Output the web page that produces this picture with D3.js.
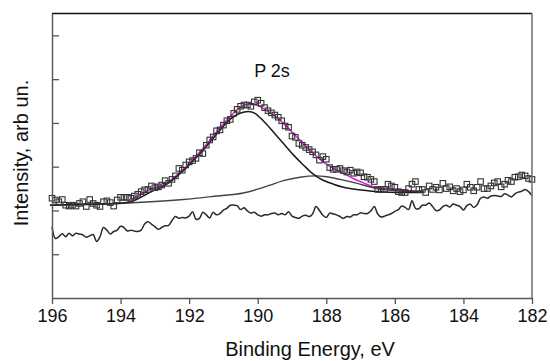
<!DOCTYPE html>
<html>
<head>
<meta charset="utf-8">
<script src="https://cdn.jsdelivr.net/npm/d3@7"></script>
<style>
  body { margin: 0; background: #fff; }
  svg { display: block; font-family: "Liberation Sans", Arial, sans-serif; }
</style>
</head>
<body>
<svg id="chart" width="550" height="361"></svg>
<script>
// Binding energy grid, eV (one point per 0.1 eV)
const energy = [
  196.0, 195.9, 195.8, 195.7, 195.6, 195.5, 195.4, 195.3, 195.2, 195.1,
  195.0, 194.9, 194.8, 194.7, 194.6, 194.5, 194.4, 194.3, 194.2, 194.1,
  194.0, 193.9, 193.8, 193.7, 193.6, 193.5, 193.4, 193.3, 193.2, 193.1,
  193.0, 192.9, 192.8, 192.7, 192.6, 192.5, 192.4, 192.3, 192.2, 192.1,
  192.0, 191.9, 191.8, 191.7, 191.6, 191.5, 191.4, 191.3, 191.2, 191.1,
  191.0, 190.9, 190.8, 190.7, 190.6, 190.5, 190.4, 190.3, 190.2, 190.1,
  190.0, 189.9, 189.8, 189.7, 189.6, 189.5, 189.4, 189.3, 189.2, 189.1,
  189.0, 188.9, 188.8, 188.7, 188.6, 188.5, 188.4, 188.3, 188.2, 188.1,
  188.0, 187.9, 187.8, 187.7, 187.6, 187.5, 187.4, 187.3, 187.2, 187.1,
  187.0, 186.9, 186.8, 186.7, 186.6, 186.5, 186.4, 186.3, 186.2, 186.1,
  186.0, 185.9, 185.8, 185.7, 185.6, 185.5, 185.4, 185.3, 185.2, 185.1,
  185.0, 184.9, 184.8, 184.7, 184.6, 184.5, 184.4, 184.3, 184.2, 184.1,
  184.0, 183.9, 183.8, 183.7, 183.6, 183.5, 183.4, 183.3, 183.2, 183.1,
  183.0, 182.9, 182.8, 182.7, 182.6, 182.5, 182.4, 182.3, 182.2, 182.1,
  182.0
];

// Measured intensity (open squares)
const measured = [
  2.28, 2.24, 2.20, 2.25, 2.12, 2.10, 2.12, 2.10, 2.16, 2.20,
  2.09, 2.25, 2.16, 2.12, 2.09, 2.20, 2.22, 2.18, 2.10, 2.24,
  2.30, 2.30, 2.30, 2.28, 2.33, 2.37, 2.43, 2.47, 2.48, 2.56,
  2.52, 2.54, 2.58, 2.68, 2.62, 2.71, 2.79, 2.96, 2.92, 3.04,
  3.11, 3.14, 3.19, 3.32, 3.30, 3.49, 3.61, 3.68, 3.82, 3.84,
  3.95, 4.05, 4.08, 4.22, 4.31, 4.38, 4.41, 4.41, 4.38, 4.48,
  4.52, 4.45, 4.35, 4.28, 4.23, 4.18, 4.13, 4.05, 3.93, 3.90,
  3.70, 3.67, 3.53, 3.49, 3.44, 3.39, 3.34, 3.27, 3.15, 3.23,
  3.17, 2.98, 2.94, 2.94, 2.96, 2.91, 2.88, 2.92, 2.85, 2.88,
  2.86, 2.77, 2.76, 2.71, 2.66, 2.48, 2.48, 2.48, 2.60, 2.56,
  2.53, 2.43, 2.41, 2.41, 2.50, 2.60, 2.66, 2.48, 2.48, 2.41,
  2.56, 2.48, 2.53, 2.47, 2.62, 2.50, 2.54, 2.45, 2.50, 2.43,
  2.47, 2.60, 2.53, 2.45, 2.53, 2.66, 2.50, 2.50, 2.56, 2.63,
  2.66, 2.54, 2.60, 2.69, 2.66, 2.76, 2.77, 2.81, 2.79, 2.73,
  2.71
];

// Residual (lower noisy trace), same energy grid
const residual = [
  1.63, 1.36, 1.40, 1.47, 1.40, 1.48, 1.42, 1.48, 1.46, 1.44,
  1.39, 1.42, 1.45, 1.29, 1.40, 1.61, 1.55, 1.46, 1.52, 1.55,
  1.64, 1.61, 1.53, 1.55, 1.53, 1.52, 1.55, 1.69, 1.74, 1.69,
  1.63, 1.57, 1.61, 1.65, 1.66, 1.77, 1.86, 1.82, 1.84, 1.83,
  1.87, 1.97, 1.80, 1.82, 1.96, 1.90, 1.83, 1.96, 1.90, 1.93,
  2.01, 2.05, 2.12, 2.12, 2.11, 2.02, 2.06, 1.99, 1.94, 1.96,
  1.90, 1.87, 1.90, 1.90, 1.93, 1.94, 1.90, 1.93, 1.90, 1.97,
  1.87, 1.84, 1.82, 1.87, 1.89, 1.86, 1.92, 2.09, 2.00, 1.89,
  1.84, 1.94, 1.92, 1.90, 1.86, 1.82, 1.86, 1.85, 1.90, 1.90,
  1.95, 1.93, 1.93, 1.99, 2.09, 1.92, 1.85, 1.87, 1.90, 1.93,
  1.98, 2.02, 2.10, 2.07, 2.02, 2.22, 2.05, 2.04, 2.12, 2.12,
  2.17, 2.09, 2.00, 2.01, 2.09, 2.12, 2.08, 2.15, 2.12, 2.09,
  2.01, 2.11, 2.14, 2.07, 2.13, 2.28, 2.31, 2.28, 2.33, 2.34,
  2.33, 2.32, 2.38, 2.35, 2.31, 2.38, 2.42, 2.44, 2.48, 2.43,
  2.34
];

// Total fit envelope (magenta)
const fitEnergy = [193.7, 193.14, 192.65, 192.17, 191.68, 191.2, 190.81, 190.52, 190.22,
  190.03, 189.74, 189.45, 189.25, 188.96, 188.67, 188.38, 188.09, 187.79, 187.5,
  187.21, 186.92, 186.63, 186.34, 185.95, 185.56, 185.17];
const fitTotal = [2.24, 2.48, 2.63, 2.94, 3.34, 3.80, 4.14, 4.35, 4.43,
  4.41, 4.28, 4.13, 3.99, 3.76, 3.53, 3.30, 3.11, 2.96, 2.85,
  2.73, 2.63, 2.54, 2.50, 2.47, 2.45, 2.44];

// Main P 2s component on background (black)
const mainEnergy = [196.06, 195.1, 194.1, 193.7, 193.1, 192.65, 192.17, 191.68, 191.2,
  190.81, 190.52, 190.27, 190.08, 189.84, 189.55, 189.25, 188.96, 188.67, 188.38,
  188.09, 187.79, 187.5, 187.21, 186.92, 186.63, 186.34, 185.95, 185.17];
const mainComp = [2.12, 2.14, 2.16, 2.20, 2.43, 2.60, 2.91, 3.30, 3.74,
  4.08, 4.22, 4.26, 4.22, 4.05, 3.80, 3.53, 3.27, 3.04, 2.83,
  2.69, 2.60, 2.53, 2.49, 2.46, 2.44, 2.42, 2.41, 2.41];

// Broad second component on background (grey)
const broadEnergy = [196.06, 194.1, 192.17, 191.2, 190.42, 190.03, 189.64, 189.25,
  188.77, 188.28, 187.99, 187.6, 187.1, 186.63, 186.24, 185.75, 185.17];
const broadComp = [2.12, 2.16, 2.25, 2.33, 2.40, 2.48, 2.58, 2.68,
  2.76, 2.79, 2.77, 2.71, 2.62, 2.52, 2.47, 2.44, 2.44];

const xTicks = [196, 194, 192, 190, 188, 186, 184, 182];
const yTicks = [1, 2, 3, 4, 5, 6];

const margin = { top: 13.5, right: 18, bottom: 63, left: 52 };
const W = 550, H = 361;
const svg = d3.select('#chart');

const x = d3.scaleLinear().domain([196, 182]).range([margin.left, W - margin.right]);
const y = d3.scaleLinear().domain([0, 6.5]).range([H - margin.bottom, margin.top]);

const zip = (xs, ys) => xs.map((e, i) => [e, ys[i]]);
const line = d3.line().x((d) => x(d[0])).y((d) => y(d[1]));

// residual
svg.append('path')
  .attr('fill', 'none')
  .attr('stroke', '#2a2a2a')
  .attr('stroke-width', 1.5)
  .attr('d', line.curve(d3.curveCatmullRom)(zip(energy, residual)));

// fit envelope
svg.append('path')
  .attr('fill', 'none')
  .attr('stroke', '#e619e6')
  .attr('stroke-width', 1.5)
  .attr('d', line.curve(d3.curveMonotoneX)(zip(fitEnergy, fitTotal)));

// broad component
svg.append('path')
  .attr('fill', 'none')
  .attr('stroke', '#444')
  .attr('stroke-width', 1.4)
  .attr('d', line.curve(d3.curveMonotoneX)(zip(broadEnergy, broadComp)));

// main component
svg.append('path')
  .attr('fill', 'none')
  .attr('stroke', '#1a1a1a')
  .attr('stroke-width', 1.5)
  .attr('d', line.curve(d3.curveMonotoneX)(zip(mainEnergy, mainComp)));

// measured points
svg.append('g')
  .selectAll('rect')
  .data(zip(energy, measured))
  .join('rect')
  .attr('x', (d) => x(d[0]) - 2.75)
  .attr('y', (d) => y(d[1]) - 2.75)
  .attr('width', 5.5)
  .attr('height', 5.5)
  .attr('fill', 'none')
  .attr('stroke', '#333')
  .attr('stroke-width', 1.1);

// frame
const x0 = x(196), x1 = x(182), y0 = y(0), y1 = y(6.5);
svg.append('line').attr('x1', x0).attr('x2', x1).attr('y1', y1).attr('y2', y1)
  .attr('stroke', '#111').attr('stroke-width', 1.5);
svg.append('line').attr('x1', x1).attr('x2', x1).attr('y1', y1).attr('y2', y0)
  .attr('stroke', '#777').attr('stroke-width', 1.6);

// x axis, ticks outward
const xAxis = svg.append('g')
  .attr('transform', `translate(0,${y0})`)
  .call(d3.axisBottom(x).tickValues(xTicks).tickSize(6).tickSizeOuter(0).tickPadding(5));
xAxis.select('.domain').attr('stroke', '#555').attr('stroke-width', 1.4);
xAxis.selectAll('.tick line').attr('stroke', '#555').attr('stroke-width', 1.3);
xAxis.selectAll('.tick text')
  .attr('font-size', 18)
  .attr('font-family', '"Liberation Sans", Arial, sans-serif')
  .attr('fill', '#111');

// y axis, ticks inward, no labels
const yAxis = svg.append('g')
  .attr('transform', `translate(${x0},0)`)
  .call(d3.axisRight(y).tickValues(yTicks).tickSize(7).tickSizeOuter(0).tickFormat(''));
yAxis.select('.domain').attr('stroke', '#555').attr('stroke-width', 1.4);
yAxis.selectAll('.tick line').attr('stroke', '#555').attr('stroke-width', 1.3);

// titles
svg.append('text')
  .attr('x', 310)
  .attr('y', 356)
  .attr('text-anchor', 'middle')
  .attr('font-size', 20)
  .attr('fill', '#111')
  .text('Binding Energy, eV');

svg.append('text')
  .attr('transform', `translate(28,${153}) rotate(-90)`)
  .attr('text-anchor', 'middle')
  .attr('font-size', 20)
  .attr('fill', '#111')
  .text('Intensity, arb un.');

svg.append('text')
  .attr('x', 272)
  .attr('y', 77)
  .attr('text-anchor', 'middle')
  .attr('font-size', 18)
  .attr('fill', '#111')
  .text('P 2s');
</script>
</body>
</html>
